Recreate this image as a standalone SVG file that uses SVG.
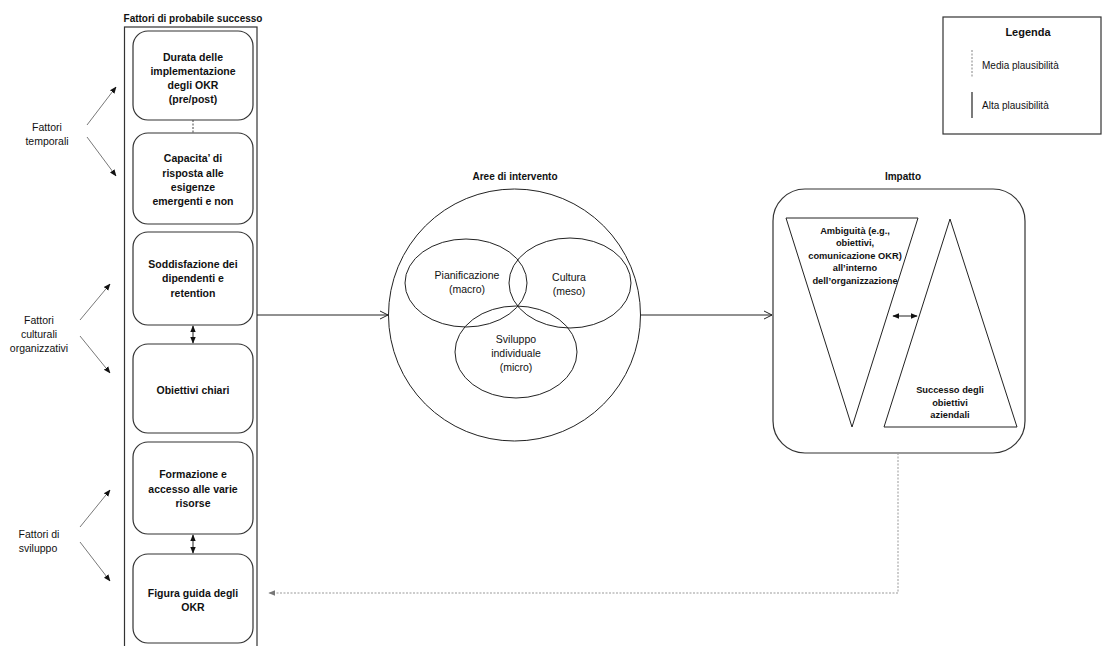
<svg xmlns="http://www.w3.org/2000/svg" width="1104" height="646" viewBox="0 0 1104 646">
<style>
text{font-family:"Liberation Sans",Arial,sans-serif;fill:#111;text-anchor:middle;font-size:10.5px}
.b{font-weight:bold;font-size:10.5px}
.box{fill:#fff;stroke:#333;stroke-width:1.2}
.ln{fill:none;stroke:#222;stroke-width:1}
.thin{fill:none;stroke:#555;stroke-width:0.8}
.dot{fill:none;stroke:#999;stroke-width:1;stroke-dasharray:2,1.5}
</style>
<defs>
<marker id="fa" viewBox="0 0 10 10" refX="9" refY="5" markerWidth="7" markerHeight="7" orient="auto-start-reverse" markerUnits="userSpaceOnUse"><path d="M0,1 L10,5 L0,9 z" fill="#111"/></marker>
<marker id="oa" viewBox="0 0 10 10" refX="9" refY="5" markerWidth="10" markerHeight="10" orient="auto" markerUnits="userSpaceOnUse"><path d="M1,1 L9,5 L1,9" fill="none" stroke="#222" stroke-width="1"/></marker>
<marker id="ga" viewBox="0 0 10 10" refX="9" refY="5" markerWidth="7" markerHeight="7" orient="auto" markerUnits="userSpaceOnUse"><path d="M0,1 L10,5 L0,9 z" fill="#777"/></marker>
</defs>

<g id="legend">
<rect class="box" x="943" y="17" width="158" height="117"/>
<text class="b" x="1028" y="36" style="font-size:11px">Legenda</text>
<line x1="972" y1="50" x2="972" y2="77" stroke="#666" stroke-width="0.8" stroke-dasharray="2,1.5"/>
<text x="982" y="69" style="text-anchor:start;font-size:10px">Media plausibilità</text>
<line x1="972" y1="92" x2="972" y2="118" stroke="#222" stroke-width="1.2"/>
<text x="982" y="109" style="text-anchor:start;font-size:10px">Alta plausibilità</text>
</g>

<g id="fattori-probabile-successo">
<text class="b" x="193" y="22" style="font-size:10px">Fattori di probabile successo</text>
<rect class="box" x="124.5" y="27" width="132.5" height="625"/>
</g>

<g id="n1"><rect class="box" x="133" y="31" width="120" height="89" rx="15"/>
<text class="b" x="193" y="61">Durata delle</text><text class="b" x="193" y="75">implementazione</text><text class="b" x="193" y="89">degli OKR</text><text class="b" x="193" y="103">(pre/post)</text></g>
<g id="n2"><rect class="box" x="133" y="133" width="120" height="91" rx="15"/>
<text class="b" x="193" y="162">Capacita’ di</text><text class="b" x="193" y="177">risposta alle</text><text class="b" x="193" y="191">esigenze</text><text class="b" x="193" y="205">emergenti e non</text></g>
<g id="n3"><rect class="box" x="133" y="232" width="120" height="93" rx="15"/>
<text class="b" x="193" y="268">Soddisfazione dei</text><text class="b" x="193" y="282">dipendenti e</text><text class="b" x="193" y="297">retention</text></g>
<g id="n4"><rect class="box" x="133" y="344" width="120" height="89" rx="15"/>
<text class="b" x="193" y="394">Obiettivi chiari</text></g>
<g id="n5"><rect class="box" x="133" y="442" width="120" height="92" rx="15"/>
<text class="b" x="193" y="478">Formazione e</text><text class="b" x="193" y="493">accesso alle varie</text><text class="b" x="193" y="507">risorse</text></g>
<g id="n6"><rect class="box" x="133" y="554" width="120" height="89" rx="15"/>
<text class="b" x="193" y="597">Figura guida degli</text><text class="b" x="193" y="611">OKR</text></g>

<g id="lbl-temporali"><text x="47" y="131">Fattori</text><text x="47" y="145">temporali</text></g>
<g id="lbl-culturali"><text x="39" y="324">Fattori</text><text x="39" y="338">culturali</text><text x="39" y="352">organizzativi</text></g>
<g id="lbl-sviluppo"><text x="39" y="538">Fattori di</text><text x="38" y="552">sviluppo</text></g>

<g id="aree">
<text class="b" x="515" y="180" style="font-size:10px">Aree di intervento</text>
<circle class="ln" cx="514.5" cy="315" r="126"/>
<ellipse class="ln" cx="466" cy="283" rx="61" ry="44"/>
<ellipse class="ln" cx="570" cy="283" rx="61" ry="45"/>
<ellipse class="ln" cx="516" cy="352" rx="61" ry="46"/>
<text x="467" y="279">Pianificazione</text><text x="467" y="293">(macro)</text>
<text x="569" y="281">Cultura</text><text x="569" y="295">(meso)</text>
<text x="516" y="343">Sviluppo</text><text x="516" y="357">individuale</text><text x="516" y="371">(micro)</text>
</g>

<g id="impatto">
<text class="b" x="903" y="180" style="font-size:10px">Impatto</text>
<rect class="box" x="773" y="189" width="252" height="264" rx="32"/>
<polygon class="ln" points="786,218 918,218 852,427"/>
<polygon class="ln" points="950,219 1017,427 884,427"/>
<g>
<text class="b" x="855" y="234" style="font-size:9.3px">Ambiguità (e.g.,</text>
<text class="b" x="855" y="246" style="font-size:9.3px">obiettivi,</text>
<text class="b" x="855" y="259" style="font-size:9.3px">comunicazione OKR)</text>
<text class="b" x="855" y="271" style="font-size:9.3px">all’interno</text>
<text class="b" x="855" y="284" style="font-size:9.3px">dell’organizzazione</text>
<text class="b" x="950" y="393" style="font-size:9.3px">Successo degli</text>
<text class="b" x="950" y="406" style="font-size:9.3px">obiettivi</text>
<text class="b" x="950" y="418" style="font-size:9.3px">aziendali</text>
</g>
</g>

<g id="connectors">
<line class="thin" x1="87" y1="125" x2="116" y2="87" marker-end="url(#fa)"/>
<line class="thin" x1="87" y1="137" x2="116" y2="176" marker-end="url(#fa)"/>
<line class="thin" x1="80" y1="320" x2="110" y2="284" marker-end="url(#fa)"/>
<line class="thin" x1="80" y1="336" x2="110" y2="373" marker-end="url(#fa)"/>
<line class="thin" x1="80" y1="527" x2="110" y2="490" marker-end="url(#fa)"/>
<line class="thin" x1="80" y1="542" x2="110" y2="581" marker-end="url(#fa)"/>
<line x1="193" y1="120" x2="193" y2="133" stroke="#444" stroke-width="1" stroke-dasharray="2,1.5"/>
<line class="ln" x1="193" y1="326" x2="193" y2="343" marker-start="url(#fa)" marker-end="url(#fa)"/>
<line class="ln" x1="193" y1="535" x2="193" y2="553" marker-start="url(#fa)" marker-end="url(#fa)"/>
<line class="ln" x1="257" y1="315" x2="388" y2="315" marker-end="url(#oa)"/>
<line class="ln" x1="641" y1="315" x2="772" y2="315" marker-end="url(#oa)"/>
<line class="ln" x1="893" y1="316" x2="917" y2="316" marker-start="url(#fa)" marker-end="url(#fa)"/>
<polyline class="dot" points="898,453 898,593 269,593" marker-end="url(#ga)"/>
</g>
</svg>
